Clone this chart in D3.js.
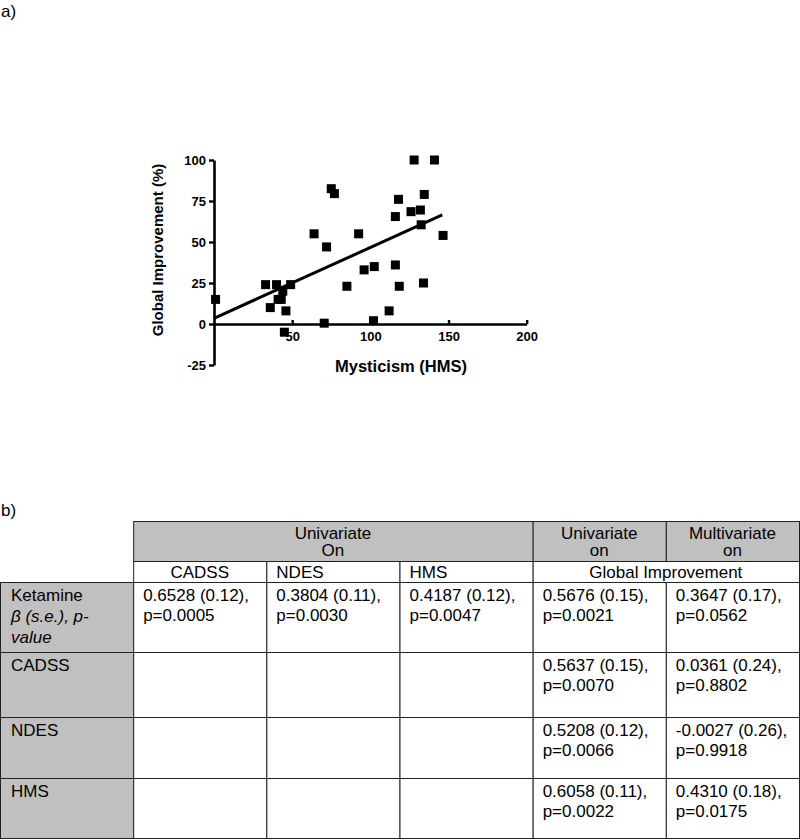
<!DOCTYPE html>
<html>
<head>
<meta charset="utf-8">
<script src="https://cdn.jsdelivr.net/npm/d3@7"></script>
<style>
  body { margin: 0; background: #fff; }
  svg { display: block; font-family: "Liberation Sans", Arial, sans-serif; }
</style>
</head>
<body>
<div id="chart"></div>
<script>
// ---- panel a: scatter data (HMS score vs global improvement %) ----
var hms = [1, 33, 40, 49, 36, 41, 43, 44, 46, 45, 64, 72, 70.5, 75, 77, 85, 92.5,
           96, 102.5, 102, 112, 116, 118.5, 116, 118, 126, 132, 132.5, 134.5, 134, 128, 141, 146.5];
var improvement = [15, 24, 24, 24, 10, 15, 15, 20, 8, -5, 55, 47, 0.5, 82.5, 79.5, 23, 55,
                   33, 35, 2, 8, 36, 23, 65.5, 76, 68.5, 69.5, 60.5, 79, 25, 100, 100, 54];
var fitX = [0, 146];
var fitY = [3.5, 66.5];
var xTicks = [50, 100, 150, 200];
var yTicks = [-25, 0, 25, 50, 75, 100];

// ---- panel b: table ----
var headerTop = ["Univariate\nOn", "Univariate\non", "Multivariate\non"];
var subHeaders = ["CADSS", "NDES", "HMS", "Global Improvement"];
var rowLabels = ["Ketamine", "CADSS", "NDES", "HMS"];
var cadssCol = ["0.6528 (0.12),\np=0.0005", "", "", ""];
var ndesCol = ["0.3804 (0.11),\np=0.0030", "", "", ""];
var hmsCol = ["0.4187 (0.12),\np=0.0047", "", "", ""];
var uniCol = ["0.5676 (0.15),\np=0.0021", "0.5637 (0.15),\np=0.0070", "0.5208 (0.12),\np=0.0066", "0.6058 (0.11),\np=0.0022"];
var multiCol = ["0.3647 (0.17),\np=0.0562", "0.0361 (0.24),\np=0.8802", "-0.0027 (0.26),\np=0.9918", "0.4310 (0.18),\np=0.0175"];

var width = 800;
var height = 840;

var svg = d3.select("#chart")
  .append("svg")
  .attr("width", width)
  .attr("height", height);

svg.append("rect").attr("width", width).attr("height", height).attr("fill", "#fff");

// panel letters
svg.append("text").attr("x", 1).attr("y", 17).attr("font-size", 17).text("a)");
svg.append("text").attr("x", 1).attr("y", 516).attr("font-size", 17).text("b)");

// ---------- scatter ----------
var x = d3.scaleLinear().domain([0, 200]).range([214, 526.7]);
var y = d3.scaleLinear().domain([-25, 100]).range([365, 160]);

var plot = svg.append("g");
var plain = function(d) { return String(d); };

var xAxis = plot.append("g")
  .attr("transform", "translate(0," + y(0) + ")")
  .call(d3.axisBottom(x).tickValues(xTicks).tickFormat(plain)
    .tickSizeInner(-4).tickSizeOuter(0).tickPadding(8));

var yAxis = plot.append("g")
  .attr("transform", "translate(" + x(0) + ",0)")
  .call(d3.axisLeft(y).tickValues(yTicks).tickFormat(plain)
    .tickSizeInner(5).tickSizeOuter(0).tickPadding(3));

[xAxis, yAxis].forEach(function(g) {
  g.select(".domain").attr("stroke", "#000").attr("stroke-width", 2.6);
  g.selectAll(".tick line").attr("stroke", "#000").attr("stroke-width", 2.4);
  g.selectAll(".tick text")
    .attr("fill", "#000")
    .attr("font-family", "'Liberation Sans', Arial, sans-serif")
    .attr("font-size", 13)
    .attr("font-weight", "bold");
});

var points = hms.map(function(d, i) { return { x: d, y: improvement[i] }; });

plot.selectAll(".pt")
  .data(points)
  .enter()
  .append("rect")
  .attr("class", "pt")
  .attr("x", function(d) { return x(d.x) - 4.5; })
  .attr("y", function(d) { return y(d.y) - 4.5; })
  .attr("width", 9)
  .attr("height", 9)
  .attr("fill", "#000");

var fit = fitX.map(function(d, i) { return [d, fitY[i]]; });
plot.append("path")
  .datum(fit)
  .attr("d", d3.line().x(function(d) { return x(d[0]); }).y(function(d) { return y(d[1]); }))
  .attr("stroke", "#000")
  .attr("stroke-width", 3)
  .attr("fill", "none");

plot.append("text")
  .attr("transform", "translate(163,250) rotate(-90)")
  .attr("text-anchor", "middle")
  .attr("font-size", 15)
  .attr("font-weight", "bold")
  .text("Global Improvement (%)");

plot.append("text")
  .attr("x", 401)
  .attr("y", 372)
  .attr("text-anchor", "middle")
  .attr("font-size", 16.5)
  .attr("font-weight", "bold")
  .text("Mysticism (HMS)");

// ---------- table ----------
var cols = d3.scaleBand().domain(d3.range(6)).range([0, 799]);
var cw = cols.bandwidth();
var rowEdges = [521, 561, 582, 652, 717, 778, 838];
var grey = "#c0c0c0";
var lineColor = "#222";
var fs = 17;

var table = svg.append("g").attr("font-size", fs).attr("fill", "#000");

function cell(x0, y0, w, h, fill) {
  table.append("rect")
    .attr("x", x0 + 0.5).attr("y", y0 + 0.5)
    .attr("width", w).attr("height", h)
    .attr("fill", fill)
    .attr("stroke", lineColor)
    .attr("stroke-width", 1);
}

function lines(txt, x0, y0, anchor, step, italicFrom) {
  var t = table.append("text").attr("text-anchor", anchor);
  txt.split("\n").forEach(function(s, i) {
    t.append("tspan")
      .attr("x", x0)
      .attr("y", y0 + i * step)
      .attr("font-style", italicFrom !== undefined && i >= italicFrom ? "italic" : null)
      .text(s);
  });
}

// header row 1
var h1 = [
  { x0: cols(1), w: cw * 3, t: headerTop[0] },
  { x0: cols(4), w: cw, t: headerTop[1] },
  { x0: cols(5), w: cw, t: headerTop[2] }
];
h1.forEach(function(d) {
  cell(d.x0, rowEdges[0], d.w, rowEdges[1] - rowEdges[0], grey);
  lines(d.t, d.x0 + d.w / 2, rowEdges[0] + 17.5, "middle", 17.5);
});

// header row 2
[1, 2, 3].forEach(function(c) {
  cell(cols(c), rowEdges[1], cw, rowEdges[2] - rowEdges[1], "#fff");
});
cell(cols(4), rowEdges[1], cw * 2, rowEdges[2] - rowEdges[1], "#fff");
var r2y = rowEdges[1] + 17;
lines(subHeaders[0], cols(1) + cw / 2, r2y, "middle", 0);
lines(subHeaders[1], cols(2) + 10, r2y, "start", 0);
lines(subHeaders[2], cols(3) + 10, r2y, "start", 0);
lines(subHeaders[3], cols(4) + cw, r2y, "middle", 0);

// body rows
var bodyCols = [cadssCol, ndesCol, hmsCol, uniCol, multiCol];
rowLabels.forEach(function(lab, r) {
  var y0 = rowEdges[r + 2];
  var h = rowEdges[r + 3] - y0;
  cell(cols(0), y0, cw, h, grey);
  if (r === 0) {
    lines(lab + "\n\u03b2 (s.e.), p-\nvalue", cols(0) + 11, y0 + 19, "start", 21, 1);
  } else {
    lines(lab, cols(0) + 11, y0 + 19, "start", 21);
  }
  bodyCols.forEach(function(col, c) {
    cell(cols(c + 1), y0, cw, h, "#fff");
    if (col[r]) lines(col[r], cols(c + 1) + 10, y0 + 18.5, "start", 20.5);
  });
});
</script>
</body>
</html>
